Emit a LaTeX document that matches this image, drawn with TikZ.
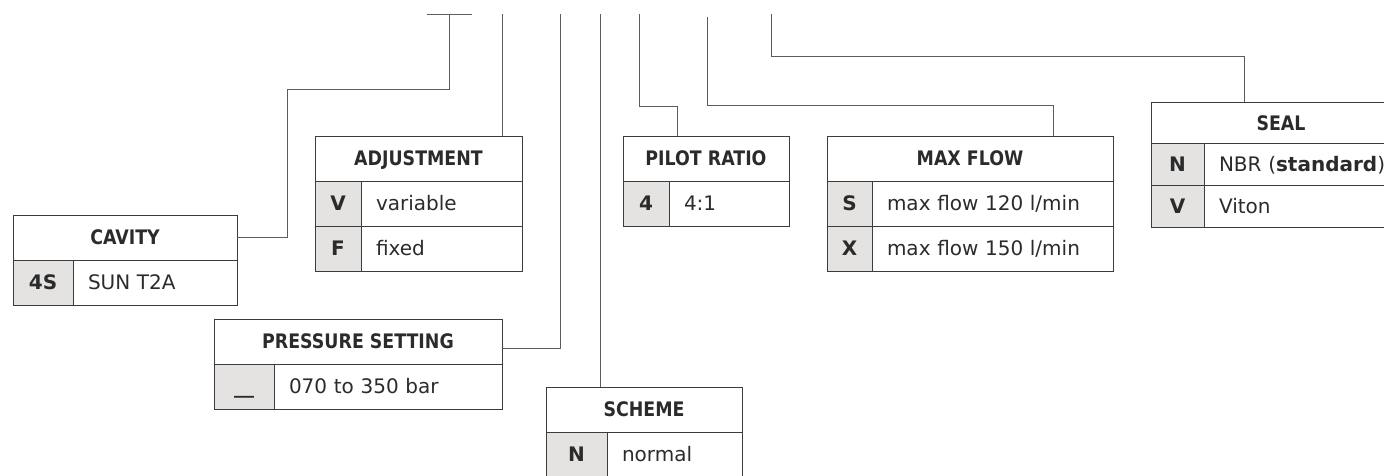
\documentclass[tikz,border=0pt]{standalone}
\usepackage{fontspec}
\setmainfont{DejaVu Sans}
\newfontfamily\hdfont[FakeStretch=0.87]{DejaVu Sans}
\usepackage{tikz}
\usetikzlibrary{positioning}
\definecolor{inkgray}{HTML}{2B2B2B}
\definecolor{rulegray}{HTML}{3C3C3C}
\definecolor{wiregray}{HTML}{5C5C5C}
\definecolor{keyfill}{HTML}{E4E3E1}

\begin{document}
\begin{tikzpicture}[x=1pt,y=-1pt,
  cell/.style={draw=rulegray,line width=1pt,outer sep=0pt,minimum height=45pt,inner ysep=0pt,
    text height=14.6pt,text depth=0pt,text=inkgray,font=\fontsize{20}{24}\selectfont},
  hd/.style={cell,minimum width=#1,font=\fontsize{20}{24}\selectfont\hdfont\bfseries},
  kc/.style={cell,minimum width=#1,inner xsep=0pt,fill=keyfill,font=\fontsize{20}{24}\selectfont\bfseries},
  vc/.style={cell,inner xsep=15pt,text width=#1,align=left},
  wire/.style={draw=wiregray,line width=1pt}]
\useasboundingbox (0,0) rectangle (1384,475);

% cavity
\node[hd=224pt,anchor=north west] (cav) at (13,215) {CAVITY};
\node[kc=60pt,below=0pt of cav.south west,anchor=north west] (cav4s) {4S};
\node[vc=134pt,right=0pt of cav4s] (cavsun) {SUN T2A};

% adjustment
\node[hd=207pt,anchor=north west] (adj) at (315,136) {ADJUSTMENT};
\node[kc=46pt,below=0pt of adj.south west,anchor=north west] (adjv) {V};
\node[vc=131pt,right=0pt of adjv] (adjvar) {variable};
\node[kc=46pt,below=0pt of adjv] (adjf) {F};
\node[vc=131pt,right=0pt of adjf] (adjfix) {fixed};

% pressure setting
\node[hd=288pt,anchor=north west] (pre) at (214,319) {PRESSURE SETTING};
\node[kc=60pt,below=0pt of pre.south west,anchor=north west] (prek) {\_\_};
\node[vc=198pt,right=0pt of prek] (prerng) {070 to 350 bar};

% scheme
\node[hd=196pt,anchor=north west] (sch) at (546,387) {SCHEME};
\node[kc=61pt,below=0pt of sch.south west,anchor=north west] (schn) {N};
\node[vc=105pt,right=0pt of schn] (schnorm) {normal};

% pilot ratio
\node[hd=166pt,anchor=north west] (pil) at (623,136) {PILOT RATIO};
\node[kc=46pt,below=0pt of pil.south west,anchor=north west] (pil4) {4};
\node[vc=90pt,right=0pt of pil4] (pilrat) {4:1};

% max flow
\node[hd=286pt,anchor=north west] (mfl) at (827,136) {MAX FLOW};
\node[kc=45pt,below=0pt of mfl.south west,anchor=north west] (mfls) {S};
\node[vc=211pt,right=0pt of mfls] (mfl120) {max flow 120 l/min};
\node[kc=45pt,below=0pt of mfls] (mflx) {X};
\node[vc=211pt,right=0pt of mflx] (mfl150) {max flow 150 l/min};

% seal
\node[hd=260pt,minimum height=41.7pt,anchor=north west] (sea) at (1151,102) {SEAL};
\node[kc=53pt,minimum height=41.7pt,below=0pt of sea.south west,anchor=north west] (sean) {N};
\node[vc=177pt,minimum height=41.7pt,right=0pt of sean] (seanbr) {NBR ({\bfseries standard})};
\node[kc=53pt,minimum height=41.7pt,below=0pt of sean] (seav) {V};
\node[vc=177pt,minimum height=41.7pt,right=0pt of seav] (seavit) {Viton};

% leader lines
\coordinate (bar1) at (427,14); \coordinate (bar2) at (472,14);
\coordinate (tcav) at (449,14); \coordinate (kcav) at (287,89);
\coordinate (tadj) at (502,14);
\coordinate (tpre) at (560,14); \coordinate (kpre) at (560,348);
\coordinate (tsch) at (600,14);
\coordinate (tpil) at (639,14); \coordinate (kpil) at (677,106);
\coordinate (tmfl) at (707,17); \coordinate (kmfl) at (1053,105);
\coordinate (tsea) at (771,14); \coordinate (ksea) at (1244,56);

\draw[wire] (bar1) -- (bar2);
\draw[wire] (tcav) |- (kcav) |- (cav.east);
\draw[wire] (tadj) -- (tadj |- adj.north);
\draw[wire] (tpre) -- (kpre) -- (kpre -| pre.east);
\draw[wire] (tsch) -- (tsch |- sch.north);
\draw[wire] (tpil) |- (kpil) -- (kpil |- pil.north);
\draw[wire] (tmfl) |- (kmfl) -- (kmfl |- mfl.north);
\draw[wire] (tsea) |- (ksea) -- (ksea |- sea.north);
\end{tikzpicture}
\end{document}
